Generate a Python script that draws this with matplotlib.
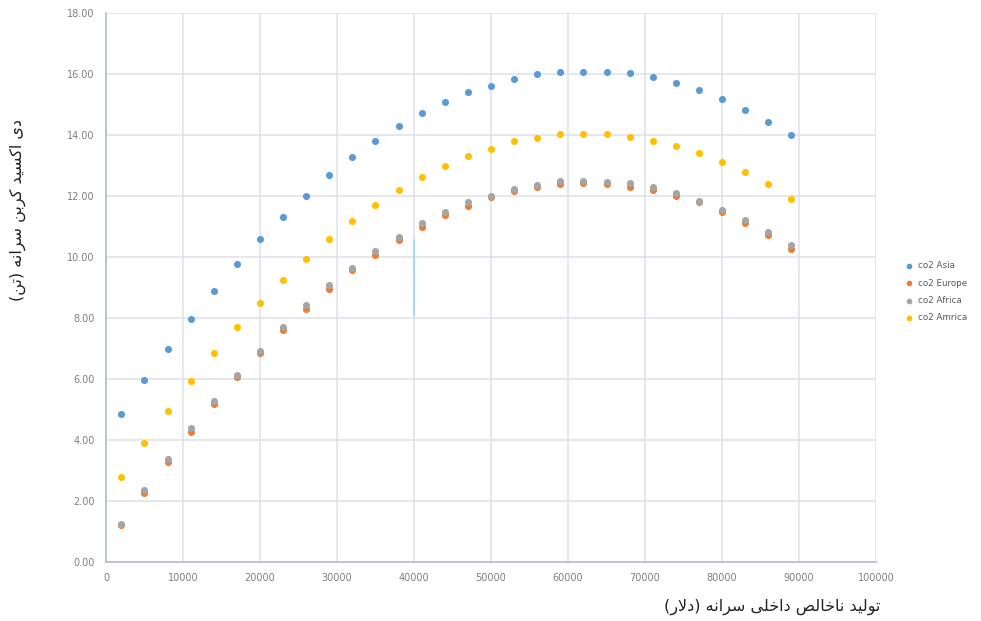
import matplotlib
matplotlib.use("Agg")
import matplotlib.pyplot as plt
from matplotlib.ticker import FormatStrFormatter

# GDP per capita (x) and CO2 per capita (y) for the four regions
gdp = [2000, 5000, 8000, 11000, 14000, 17000, 20000, 23000, 26000, 29000,
       32000, 35000, 38000, 41000, 44000, 47000, 50000, 53000, 56000, 59000,
       62000, 65000, 68000, 71000, 74000, 77000, 80000, 83000, 86000, 89000]

co2_asia = [4.85, 5.97, 6.98, 7.97, 8.89, 9.77, 10.59, 11.31, 12.00, 12.69,
            13.28, 13.80, 14.30, 14.72, 15.08, 15.41, 15.60, 15.84, 16.00, 16.08,
            16.08, 16.08, 16.05, 15.90, 15.70, 15.48, 15.18, 14.82, 14.43, 14.00]

co2_europe = [1.21, 2.27, 3.29, 4.27, 5.18, 6.06, 6.85, 7.60, 8.30, 8.95,
              9.56, 10.07, 10.55, 11.00, 11.38, 11.68, 11.96, 12.15, 12.28, 12.39,
              12.44, 12.39, 12.31, 12.20, 12.01, 11.80, 11.46, 11.13, 10.73, 10.27]

co2_africa = [1.25, 2.36, 3.38, 4.39, 5.28, 6.13, 6.92, 7.70, 8.43, 9.08,
              9.64, 10.20, 10.66, 11.11, 11.48, 11.80, 12.00, 12.23, 12.36, 12.49,
              12.49, 12.46, 12.43, 12.30, 12.10, 11.84, 11.54, 11.21, 10.82, 10.39]

co2_america = [2.79, 3.90, 4.95, 5.93, 6.85, 7.70, 8.49, 9.25, 9.93, 10.59,
               11.18, 11.70, 12.20, 12.62, 12.98, 13.31, 13.54, 13.80, 13.90, 14.03,
               14.03, 14.03, 13.93, 13.80, 13.64, 13.41, 13.11, 12.79, 12.39, 11.90]

series_labels = ["co2 Asia", "co2 Europe", "co2 Africa", "co2 Amrica"]

# stray cursor line visible in the original picture
stray_x = [40000, 40000]
stray_y = [8.05, 10.55]

x_title = "تولید ناخالص داخلی سرانه (دلار)"
y_title = "دی اکسید کربن سرانه (تن)"


# minimal Persian shaping (no external reshaper available)
FORMS = {
    'ا': ('\uFE8D', '\uFE8E', None, None),
    'ب': ('\uFE8F', '\uFE90', '\uFE91', '\uFE92'),
    'ت': ('\uFE95', '\uFE96', '\uFE97', '\uFE98'),
    'خ': ('\uFEA5', '\uFEA6', '\uFEA7', '\uFEA8'),
    'د': ('\uFEA9', '\uFEAA', None, None),
    'ر': ('\uFEAD', '\uFEAE', None, None),
    'س': ('\uFEB1', '\uFEB2', '\uFEB3', '\uFEB4'),
    'ص': ('\uFEB9', '\uFEBA', '\uFEBB', '\uFEBC'),
    'ل': ('\uFEDD', '\uFEDE', '\uFEDF', '\uFEE0'),
    'ن': ('\uFEE5', '\uFEE6', '\uFEE7', '\uFEE8'),
    'ه': ('\uFEE9', '\uFEEA', '\uFEEB', '\uFEEC'),
    'و': ('\uFEED', '\uFEEE', None, None),
    'ک': ('\uFB8E', '\uFB8F', '\uFB90', '\uFB91'),
    'ی': ('\uFBFC', '\uFBFD', '\uFBFE', '\uFBFF'),
    'LA': ('\uFEFB', '\uFEFC', None, None),
}


def shape(text):
    toks = []
    i = 0
    while i < len(text):
        if text[i] == 'ل' and i + 1 < len(text) and text[i + 1] == 'ا':
            toks.append('LA')
            i += 2
        else:
            toks.append(text[i])
            i += 1
    out = []
    for j, t in enumerate(toks):
        if t not in FORMS:
            out.append(t)
            continue
        prev = toks[j - 1] if j > 0 else None
        nxt = toks[j + 1] if j + 1 < len(toks) else None
        jp = prev in FORMS and FORMS[prev][2] is not None
        jn = nxt in FORMS and FORMS[t][2] is not None
        f = FORMS[t]
        if jp and jn:
            out.append(f[3])
        elif jp:
            out.append(f[1])
        elif jn:
            out.append(f[2])
        else:
            out.append(f[0])
    vis = ''.join(reversed(out))
    return vis.translate(str.maketrans('()', ')('))


fig = plt.figure(figsize=(9.81, 6.21), dpi=100)
ax = fig.add_axes([0.108, 0.095, 0.785, 0.884])

colors = ["#5b9bd5", "#ed7d31", "#a5a5a5", "#ffc000"]
all_series = [co2_asia, co2_europe, co2_africa, co2_america]
for vals, c, lab in zip(all_series, colors, series_labels):
    ax.scatter(gdp, vals, s=26, color=c, label=lab, linewidths=0, zorder=3)

ax.plot(stray_x, stray_y, color="#9ad8f0", lw=1.2, zorder=2)

ax.set_xlim(0, 100000)
ax.set_ylim(0, 18)
ax.set_xticks(range(0, 100001, 10000))
ax.set_yticks([0, 2, 4, 6, 8, 10, 12, 14, 16, 18])
ax.yaxis.set_major_formatter(FormatStrFormatter('%.2f'))
ax.tick_params(length=0, labelsize=7, colors="#7f7f7f", pad=8)
ax.grid(True, color="#dfe3eb", lw=1.2)
ax.set_axisbelow(True)
for side in ["top", "right"]:
    ax.spines[side].set_visible(False)
for side in ["left", "bottom"]:
    ax.spines[side].set_color("#b4bccb")
    ax.spines[side].set_linewidth(1.2)

fig.text(772 / 981, 1 - 607 / 621, shape(x_title), fontsize=11.5,
         ha="center", va="center", color="#222222")
fig.text(18 / 981, 1 - 210 / 621, shape(y_title), fontsize=11.5,
         ha="center", va="center", rotation=90, color="#222222")

fig.legend(loc="center left", bbox_to_anchor=(0.913, 0.53), frameon=False,
           fontsize=6.3, handletextpad=0.0, markerscale=0.8,
           labelspacing=0.95, labelcolor="#595959", borderaxespad=0.1)

fig.savefig("out.png", dpi=100)
